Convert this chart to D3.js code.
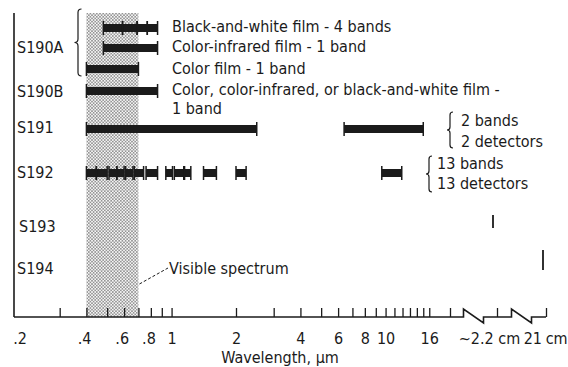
<!DOCTYPE html>
<html>
<head>
<meta charset="utf-8">
<script src="https://cdn.jsdelivr.net/npm/d3@7"></script>
<style>
  html, body { margin: 0; padding: 0; background: #fff; }
  svg { display: block; }
  text { font-family: "DejaVu Sans Condensed", "DejaVu Sans", sans-serif; font-size: 16px; fill: #1b1b1b; }
</style>
</head>
<body>
<svg id="chart" width="568" height="367"></svg>
<script>
// Spectral coverage of the EREP sensors, wavelength in micrometres.
const rowLabels = ["S190A", "S190B", "S191", "S192", "S193", "S194"];

const s190aBlackWhite = [[0.48, 0.59], [0.59, 0.69], [0.69, 0.77], [0.77, 0.86]];
const s190aColorIR = [[0.48, 0.86]];
const s190aColor = [[0.40, 0.70]];
const s190b = [[0.40, 0.86]];
const s191 = [[0.40, 2.5], [6.4, 15.0]];
const s192 = [
  [0.40, 0.445], [0.445, 0.50], [0.51, 0.555], [0.555, 0.60], [0.61, 0.66],
  [0.67, 0.74], [0.76, 0.86], [0.94, 1.01], [1.03, 1.14], [1.15, 1.23],
  [1.41, 1.62], [2.0, 2.23], [9.6, 11.9]
];
const s193 = ["~2.2 cm"];
const s194 = ["21 cm"];

const visibleSpectrum = [0.4, 0.7];

const tickValues = [0.3, 0.4, 0.5, 0.6, 0.7, 0.8, 0.9, 1, 2, 3, 4, 5, 6, 7, 8, 9, 10, 11, 12, 13, 14, 15, 16, 20];
const tickLabelValues = [0.2, 0.4, 0.6, 0.8, 1, 2, 4, 6, 8, 10, 16];
const microwaveLabels = ["~2.2 cm", "21 cm"];

const notes = {
  bw: "Black-and-white film - 4 bands",
  cir: "Color-infrared film - 1 band",
  color: "Color film - 1 band",
  s190b: ["Color, color-infrared, or black-and-white film -", "1 band"],
  s191: ["2 bands", "2 detectors"],
  s192: ["13 bands", "13 detectors"]
};
const axisTitle = "Wavelength, \u03bcm";

// ---- layout ----
const svg = d3.select("#chart");
const axisY = 317, axisX0 = 14, plotTop = 13;
const ink = "#1b1b1b";

const x = d3.scaleLog().domain([0.2, 20]).range([22, 450]);
const xMicro = d3.scalePoint().domain(microwaveLabels).range([497, 546]);

// vertical position of each drawn row
const rowY = {
  bw: 28, cir: 48, color: 69, s190b: 91,
  s191: 129, s192: 173, s193: 221, s194: 260
};

// stipple for the visible band
const defs = svg.append("defs");
const pat = defs.append("pattern")
  .attr("id", "stipple").attr("patternUnits", "userSpaceOnUse")
  .attr("width", 3.2).attr("height", 3.2);
pat.append("rect").attr("width", 3.2).attr("height", 3.2).attr("fill", "#f6f6f6");
pat.append("circle").attr("cx", 0.8).attr("cy", 0.8).attr("r", 0.75).attr("fill", "#6a6a6a");
pat.append("circle").attr("cx", 2.4).attr("cy", 2.4).attr("r", 0.75).attr("fill", "#6a6a6a");

svg.append("rect")
  .attr("x", x(visibleSpectrum[0])).attr("y", plotTop)
  .attr("width", x(visibleSpectrum[1]) - x(visibleSpectrum[0]))
  .attr("height", axisY - plotTop)
  .attr("fill", "url(#stipple)");

// left axis line
svg.append("line")
  .attr("x1", axisX0).attr("x2", axisX0).attr("y1", plotTop).attr("y2", axisY)
  .attr("stroke", ink).attr("stroke-width", 1.6);

// wavelength axis: ticks pointing up
const gTicks = svg.append("g").attr("transform", `translate(0,${axisY})`)
  .call(d3.axisBottom(x).tickValues(tickValues).tickFormat("").tickSize(-9).tickSizeOuter(0));
gTicks.select(".domain").remove();
gTicks.selectAll(".tick line").attr("stroke", ink).attr("stroke-width", 1.3);

const fmt = v => v < 1 ? String(v).replace(/^0/, "") : String(v);
const gLabels = svg.append("g").attr("transform", `translate(0,${axisY})`)
  .call(d3.axisBottom(x).tickValues(tickLabelValues).tickFormat(fmt).tickSize(0).tickPadding(15.5));
gLabels.select(".domain").remove();
gLabels.selectAll(".tick text")
  .attr("font-size", null).attr("font-family", null).attr("fill", null)
  .attr("dx", d => d < 1 ? "-0.15em" : 0);

// microwave part of the axis, with breaks
const gMicro = svg.append("g").attr("transform", `translate(0,${axisY})`)
  .call(d3.axisBottom(xMicro).tickSize(-9).tickPadding(15.5).tickSizeOuter(0));
gMicro.select(".domain").remove();
gMicro.selectAll(".tick line").attr("stroke", ink).attr("stroke-width", 1.3);
gMicro.selectAll(".tick text")
  .attr("font-size", null).attr("font-family", null).attr("fill", null)
  .attr("letter-spacing", (d, i) => i === 1 ? "-0.3px" : null)
  .attr("dx", (d, i) => i === 0 ? -8 : -1);

const breakW = 20;
const b1 = (x(20) + xMicro(microwaveLabels[0])) / 2 - breakW / 2;
const b2 = (xMicro(microwaveLabels[0]) + xMicro(microwaveLabels[1])) / 2 - breakW / 2;
const zig = bx => `L${bx},${axisY} L${bx},${axisY - 8} L${bx + breakW},${axisY + 6} L${bx + breakW},${axisY} `;
svg.append("path")
  .attr("d", `M${axisX0},${axisY} ` + zig(b1) + zig(b2) + `L${xMicro(microwaveLabels[1])},${axisY}`)
  .attr("fill", "none").attr("stroke", ink).attr("stroke-width", 1.6).attr("stroke-linejoin", "miter");

// axis title
svg.append("text").attr("x", 280).attr("y", 363).attr("text-anchor", "middle").text(axisTitle);

// ---- bands ----
const barH = 8, capH = 14;
function drawBands(bands, y) {
  const g = svg.append("g");
  g.selectAll("rect").data(bands).join("rect")
    .attr("x", d => x(d[0])).attr("width", d => x(d[1]) - x(d[0]))
    .attr("y", y - barH / 2).attr("height", barH).attr("fill", ink);
  const ends = bands.flatMap(d => [d[0], d[1]]);
  g.selectAll("line").data(ends).join("line")
    .attr("x1", d => x(d)).attr("x2", d => x(d))
    .attr("y1", y - capH / 2).attr("y2", y + capH / 2)
    .attr("stroke", ink).attr("stroke-width", 1.5);
}
drawBands(s190aBlackWhite, rowY.bw);
drawBands(s190aColorIR, rowY.cir);
drawBands(s190aColor, rowY.color);
drawBands(s190b, rowY.s190b);
drawBands(s191, rowY.s191);
drawBands(s192, rowY.s192);

// microwave sensors: single lines
svg.selectAll(".s193").data(s193).join("line")
  .attr("x1", d => xMicro(d) - 4).attr("x2", d => xMicro(d) - 4)
  .attr("y1", rowY.s193 - 6).attr("y2", rowY.s193 + 7)
  .attr("stroke", ink).attr("stroke-width", 1.8);
svg.selectAll(".s194").data(s194).join("line")
  .attr("x1", d => xMicro(d) - 3).attr("x2", d => xMicro(d) - 3)
  .attr("y1", rowY.s194 - 10).attr("y2", rowY.s194 + 10)
  .attr("stroke", ink).attr("stroke-width", 1.8);

// ---- row labels ----
const rowLabelY = { S190A: 53, S190B: 97, S191: 133, S192: 178, S193: 232, S194: 274 };
svg.selectAll(".rowlab").data(rowLabels).join("text")
  .attr("x", d => d === "S193" ? 19 : 17).attr("y", d => rowLabelY[d]).text(d => d);

// ---- notes ----
const noteX = 172;
svg.append("text").attr("x", noteX).attr("y", 32).text(notes.bw);
svg.append("text").attr("x", noteX).attr("y", 52).text(notes.cir);
svg.append("text").attr("x", noteX).attr("y", 73.5).text(notes.color);
svg.append("text").attr("x", noteX).attr("y", 95).text(notes.s190b[0]);
svg.append("text").attr("x", noteX).attr("y", 114).text(notes.s190b[1]);

svg.append("text").attr("x", 461).attr("y", 126).text(notes.s191[0]);
svg.append("text").attr("x", 461).attr("y", 147).text(notes.s191[1]);
svg.append("text").attr("x", 437).attr("y", 169).text(notes.s192[0]);
svg.append("text").attr("x", 437).attr("y", 189).text(notes.s192[1]);

// braces
function brace(bx, y0, y1, w) {
  const ym = (y0 + y1) / 2;
  return `M${bx + w},${y0} Q${bx},${y0} ${bx},${y0 + w} L${bx},${ym - w} ` +
    `Q${bx},${ym} ${bx - w},${ym} Q${bx},${ym} ${bx},${ym + w} ` +
    `L${bx},${y1 - w} Q${bx},${y1} ${bx + w},${y1}`;
}
[[78, 9, 76, 3.5], [450, 112, 148, 3], [429, 156, 192, 3]].forEach(b => {
  svg.append("path").attr("d", brace(...b))
    .attr("fill", "none").attr("stroke", ink).attr("stroke-width", 1.2);
});

// visible spectrum callout
svg.append("line")
  .attr("x1", x(visibleSpectrum[1]) + 1).attr("y1", 284)
  .attr("x2", 168).attr("y2", 268)
  .attr("stroke", ink).attr("stroke-width", 1).attr("stroke-dasharray", "3,2");
svg.append("text").attr("x", 169).attr("y", 274).text("Visible spectrum");
</script>
</body>
</html>
